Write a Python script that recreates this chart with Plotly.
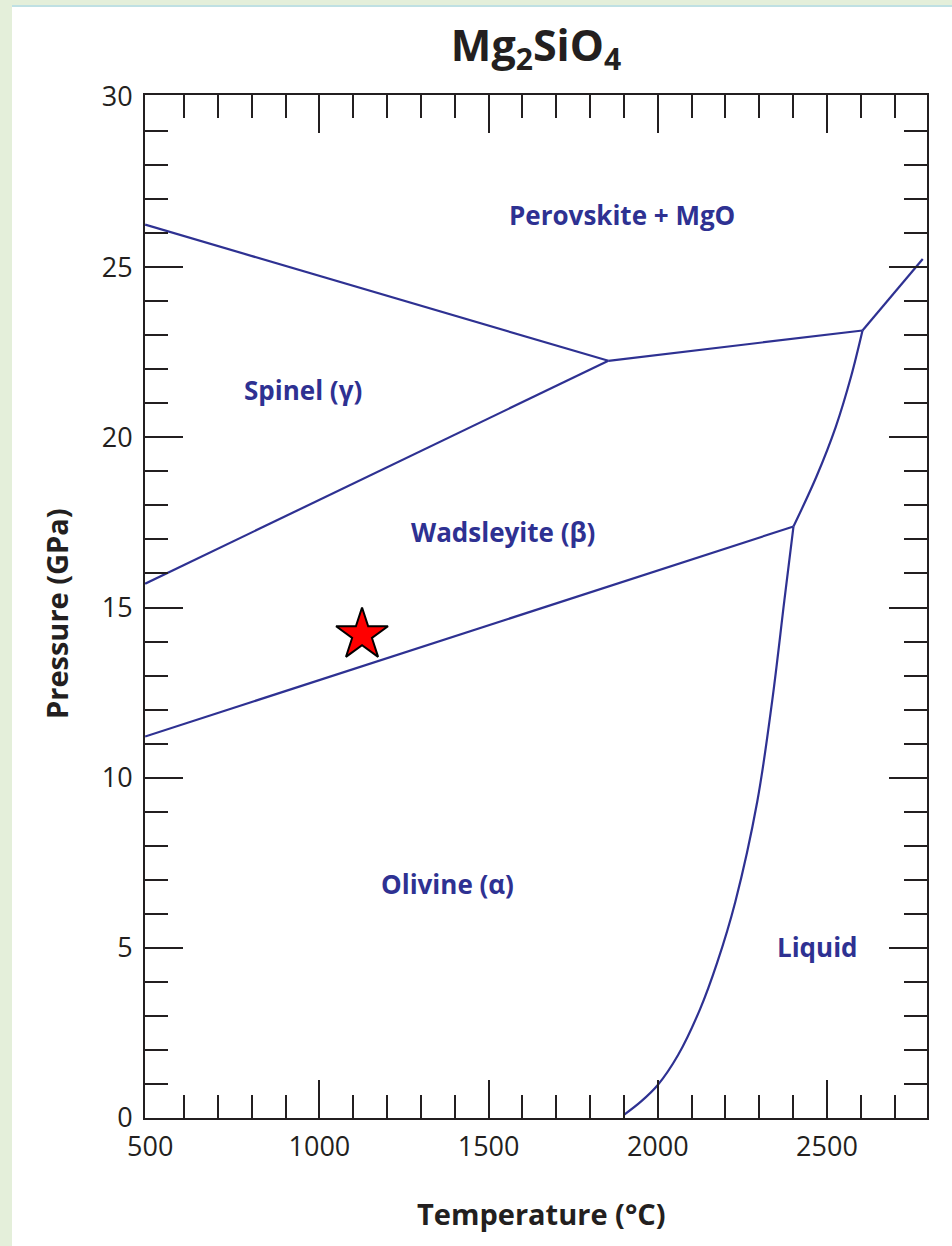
import plotly.graph_objects as go

# ---- data ----
# phase boundaries: temperature (°C) and pressure (GPa)
spinel_pv_T = [485, 1854]
spinel_pv_P = [26.25, 22.25]

wad_spinel_T = [485, 1854]
wad_spinel_P = [15.70, 22.25]

wad_pv_T = [1854, 2605]
wad_pv_P = [22.25, 23.14]

pv_liq_T = [2605, 2783]
pv_liq_P = [23.14, 25.24]

ol_wad_T = [485, 2401]
ol_wad_P = [11.21, 17.38]

wad_liq_T = [2401, 2469, 2526, 2571, 2605]
wad_liq_P = [17.38, 18.85, 20.31, 21.78, 23.14]

ol_liq_T = [1901, 1950, 2000, 2060, 2125, 2175, 2229, 2294, 2338, 2374, 2401]
ol_liq_P = [0.10, 0.48, 0.97, 1.85, 3.20, 4.55, 6.35, 9.30, 12.25, 15.20, 17.38]

star_T = [1126]
star_P = [14.2]

region_names = ["Perovskite + MgO", "Spinel (γ)", "Wadsleyite (β)", "Olivine (α)", "Liquid"]
region_T = [1895, 951, 1543, 1380, 2471]
region_P = [26.54, 21.40, 17.23, 6.88, 5.03]

x_label_vals = [500, 1000, 1500, 2000, 2500]
x_major_ticks = [1000, 1500, 2000, 2500]
x_minor_ticks = [t for t in range(600, 2800, 100) if t % 500 != 0]
y_label_vals = [0, 5, 10, 15, 20, 25, 30]
y_major_ticks = [5, 10, 15, 20, 25]
y_minor_ticks = [p for p in range(1, 30) if p % 5 != 0]

X_RANGE = [484.6, 2795.6]
Y_RANGE = [0, 30.06]

LINE_COLOR = "#2e3192"
INK = "#231f20"
FONT = "Open Sans"

fig = go.Figure()

segments = [
    (spinel_pv_T, spinel_pv_P, "linear"),
    (wad_spinel_T, wad_spinel_P, "linear"),
    (wad_pv_T, wad_pv_P, "linear"),
    (pv_liq_T, pv_liq_P, "linear"),
    (ol_wad_T, ol_wad_P, "linear"),
    (wad_liq_T, wad_liq_P, "spline"),
    (ol_liq_T, ol_liq_P, "spline"),
]
for tx, py, shp in segments:
    fig.add_trace(go.Scatter(x=tx, y=py, mode="lines",
                             line=dict(color=LINE_COLOR, width=2.2, shape=shp, smoothing=1),
                             showlegend=False, hoverinfo="skip"))

fig.add_trace(go.Scatter(x=star_T, y=star_P, mode="markers",
                         marker=dict(symbol="star", size=39, color="#ff0000",
                                     line=dict(color="#000000", width=2)),
                         showlegend=False))

# dummy trace on the tick-only axes
fig.add_trace(go.Scatter(x=[None], y=[None], xaxis="x2", yaxis="y2",
                         showlegend=False, hoverinfo="skip"))

for name, tx, py in zip(region_names, region_T, region_P):
    fig.add_annotation(x=tx, y=py, xref="x", yref="y", text="<b>%s</b>" % name,
                       xanchor="center", yanchor="middle",
                       showarrow=False, font=dict(family=FONT, size=26, color=LINE_COLOR))

L, R, T, B = 145, 25, 95, 128
W, H = 952, 1246
PW, PH = W - L - R, H - T - B

def px_x(p):
    return (p - L) / PW

def px_y(p):
    return (H - B - p) / PH

fig.add_annotation(x=px_x(56), y=px_y(614), xref="paper", yref="paper",
                   xanchor="center", yanchor="middle",
                   text="<b>Pressure (GPa)</b>", textangle=-90, showarrow=False,
                   font=dict(family=FONT, size=29, color=INK))
fig.add_annotation(x=px_x(541), y=px_y(1213), xref="paper", yref="paper",
                   xanchor="center", yanchor="middle",
                   text="<b>Temperature (°C)</b>", showarrow=False,
                   font=dict(family=FONT, size=29, color=INK))

# page border strips
fig.add_shape(type="rect", xref="paper", yref="paper", x0=px_x(0), x1=px_x(12),
              y0=px_y(H), y1=px_y(0), fillcolor="#e4efda", line_width=0, layer="below")
fig.add_shape(type="rect", xref="paper", yref="paper", x0=px_x(0), x1=px_x(W),
              y0=px_y(5), y1=px_y(0), fillcolor="#e4efda", line_width=0, layer="below")
fig.add_shape(type="line", xref="paper", yref="paper", x0=px_x(12), x1=px_x(W),
              y0=px_y(6), y1=px_y(6), line=dict(color="#bfe0e3", width=2), layer="below")

fig.update_layout(
    width=W, height=H,
    margin=dict(l=L, r=R, t=T, b=B),
    paper_bgcolor="white", plot_bgcolor="white",
    font=dict(family=FONT, color=INK),
    title=dict(text="<b>Mg<sub>2</sub>SiO<sub>4</sub></b>", x=px_x(536), xref="paper",
               xanchor="center", y=1 - 46 / H, yref="container", yanchor="middle",
               font=dict(family=FONT, size=43, color=INK)),
    xaxis=dict(range=X_RANGE, tickmode="array", tickvals=x_label_vals,
               ticktext=[str(v) for v in x_label_vals], ticks="",
               showline=True, linewidth=2, linecolor=INK, mirror=True,
               showgrid=False, zeroline=False, ticklabelstandoff=4,
               tickfont=dict(family=FONT, size=27, color=INK)),
    yaxis=dict(range=Y_RANGE, tickmode="array", tickvals=y_label_vals,
               ticktext=[str(v) for v in y_label_vals], ticks="",
               showline=True, linewidth=2, linecolor=INK, mirror=True,
               showgrid=False, zeroline=False, ticklabelstandoff=5,
               tickfont=dict(family=FONT, size=27, color=INK)),
    xaxis2=dict(range=X_RANGE, overlaying="x", side="bottom", anchor="y",
                tickmode="array", tickvals=x_major_ticks, ticks="inside",
                ticklen=38, tickwidth=2, tickcolor=INK, mirror="ticks",
                showticklabels=False, showgrid=False, zeroline=False, showline=False,
                minor=dict(tickmode="array", tickvals=x_minor_ticks, ticks="inside",
                           ticklen=23, tickwidth=2, tickcolor=INK, showgrid=False)),
    yaxis2=dict(range=Y_RANGE, overlaying="y", side="left", anchor="x",
                tickmode="array", tickvals=y_major_ticks, ticks="inside",
                ticklen=38, tickwidth=2, tickcolor=INK, mirror="ticks",
                showticklabels=False, showgrid=False, zeroline=False, showline=False,
                minor=dict(tickmode="array", tickvals=y_minor_ticks, ticks="inside",
                           ticklen=23, tickwidth=2, tickcolor=INK, showgrid=False)),
)

fig.write_html("out.html", config={"displayModeBar": False},
               post_script="document.body.style.margin='0';")
